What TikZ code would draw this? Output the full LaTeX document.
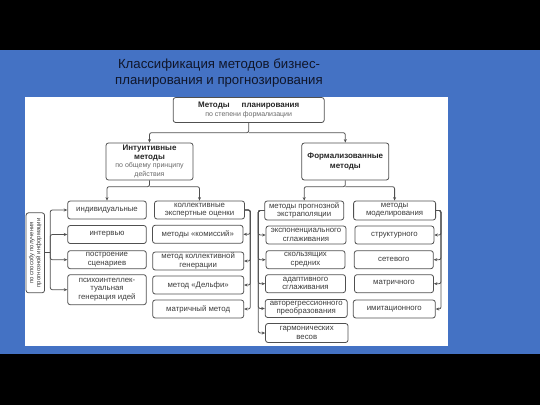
\documentclass[tikz,border=0pt]{standalone}
\usepackage{fontspec}
\setmainfont{Liberation Sans}
\usepackage{xcolor}
\usepackage{tikz}
\usetikzlibrary{arrows.meta, positioning}

\definecolor{slideblue}{RGB}{68,114,196}
\definecolor{titleink}{RGB}{16,22,42}
\definecolor{boxline}{RGB}{80,80,80}
\definecolor{boxtext}{RGB}{60,60,60}
\definecolor{subtext}{RGB}{105,105,105}

\begin{document}
\begin{tikzpicture}[x=1pt, y=-1pt,
    box/.style={draw=boxline, line width=0.8pt, rounded corners=2.5pt, fill=white, align=center, inner sep=0pt, text=boxtext, font=\fontsize{7.8}{8.3}\selectfont},
    head/.style={box, text=black!85, font=\fontsize{8}{8.6}\selectfont\bfseries},
    link/.style={draw=boxline, line width=0.8pt, rounded corners=2pt},
    >={Stealth[length=3.5pt, width=3pt]}]

    % Slide background
    \useasboundingbox (0,0) rectangle (540,405);
    \fill[black] (0,0) rectangle (540,405);
    \fill[slideblue] (0,50) rectangle (540,354);
    \fill[white] (25,97) rectangle (448,346);

    % Title
    \node[text=titleink, align=center, font=\fontsize{13.2}{16}\selectfont] (title) at (219,73) {Классификация методов бизнес-\\планирования и прогнозирования};

    % Root
    \node[head, minimum width=151pt, minimum height=25pt] (root) at (248.7,110) {Методы\hspace{12pt}планирования\\{\color{subtext}\fontsize{7}{8.6}\selectfont\mdseries по степени формализации}};

    % Intuitive / formalized
    \node[head, minimum width=87pt, minimum height=37pt] (intu) at (149.5,161.5) {Интуитивные\\методы\\{\color{subtext}\fontsize{7}{8.6}\selectfont\mdseries по общему принципу}\\{\color{subtext}\fontsize{7}{8.6}\selectfont\mdseries действия}};
    \node[head, minimum width=87pt, minimum height=37pt, font=\fontsize{8}{9.4}\selectfont\bfseries] (form) at (345.3,161.5) {Формализованные\\методы};

    % Way of getting information
    \node[box, rotate=90, minimum width=80pt, minimum height=18.5pt, font=\fontsize{6}{7}\selectfont] (vbox) at (35.3,252.8) {по способу получения\\прогнозной информации};

    % Individual
    \node[box, minimum width=78.6pt, minimum height=18pt] (ind) at (107,210) {индивидуальные};
    \node[box, minimum width=78.6pt, minimum height=18pt] (intv) at (107,234.5) {интервью};
    \node[box, minimum width=78.6pt, minimum height=18pt] (scen) at (107,259.7) {построение\\сценариев};
    \node[box, minimum width=78.6pt, minimum height=30pt] (psy) at (107,289.7) {психоинтеллек-\\туальная\\генерация идей};

    % Collective
    \node[box, minimum width=90pt, minimum height=18pt] (koll) at (199.5,210) {коллективные\\экспертные оценки};
    \node[box, minimum width=90.5pt, minimum height=18pt] (kom) at (197.8,234.3) {методы «комиссий»};
    \node[box, minimum width=91pt, minimum height=18pt] (gen) at (198.2,261) {метод коллективной\\генерации};
    \node[box, minimum width=91pt, minimum height=18pt] (delf) at (198.2,285) {метод «Дельфи»};
    \node[box, minimum width=91pt, minimum height=18pt] (matr) at (198.2,309) {матричный метод};

    % Extrapolation
    \node[box, minimum width=79pt, minimum height=19pt] (extr) at (304.2,210.5) {методы прогнозной\\экстраполяции};
    \node[box, minimum width=80pt, minimum height=18pt] (expo) at (306,235) {экспоненциального\\сглаживания};
    \node[box, minimum width=79pt, minimum height=18pt] (skol) at (305.5,259.7) {скользящих\\средних};
    \node[box, minimum width=80pt, minimum height=18pt] (adap) at (305.5,283.7) {адаптивного\\сглаживания};
    \node[box, minimum width=82pt, minimum height=18pt] (auto) at (306.2,308.5) {авторегрессионного\\преобразования};
    \node[box, minimum width=82.5pt, minimum height=19pt] (harm) at (306.8,333) {гармонических\\весов};

    % Modelling
    \node[box, minimum width=82pt, minimum height=19pt] (model) at (394.6,210.5) {методы\\моделирования};
    \node[box, minimum width=79pt, minimum height=18pt] (struct) at (394.4,235) {структурного};
    \node[box, minimum width=79pt, minimum height=18pt] (netw) at (393.8,259.7) {сетевого};
    \node[box, minimum width=79pt, minimum height=18pt] (matr4) at (394,283.7) {матричного};
    \node[box, minimum width=82pt, minimum height=18pt] (imit) at (394.3,309) {имитационного};

    % Bus points
    \coordinate (rootj) at (248.7,132.7);
    \coordinate (intuj) at (149.5,186.7);
    \coordinate (formj) at (345.3,186.7);
    \coordinate (vbus) at (50.3,252.8);
    \coordinate (kbus) at (250.3,210);
    \coordinate (ebus) at (258.3,210.5);
    \coordinate (mbus) at (441,210.5);

    % Tree arrows
    \draw[link, ->] (root.south) -- (rootj) -| (intu.north);
    \draw[link, ->] (rootj) -| (form.north);
    \draw[link, ->] (intu.south) -- (intuj) -| (ind.north);
    \draw[link, ->] (intuj) -| (koll.north);
    \draw[link, ->] (form.south) -- (formj) -| (extr.north);
    \draw[link, ->] (formj) -| (model.north);

    % Left bus (vbox.south is its right side, rotated)
    \draw[link] (vbox.south) -- (vbus);
    \draw[link, ->] (vbus) |- (ind.west);
    \draw[link, ->] (vbus) |- (intv.west);
    \draw[link, ->] (vbus) |- (scen.west);
    \draw[link, ->] (vbus) |- (psy.west);

    % Collective bus
    \draw[link, ->] (koll.east) -- (kbus) |- (kom.east);
    \draw[link, ->] (koll.east) -- (kbus) |- (gen.east);
    \draw[link, ->] (koll.east) -- (kbus) |- (delf.east);
    \draw[link, ->] (koll.east) -- (kbus) |- (matr.east);

    % Extrapolation bus
    \draw[link, ->] (extr.west) -- (ebus) |- (expo.west);
    \draw[link, ->] (extr.west) -- (ebus) |- (skol.west);
    \draw[link, ->] (extr.west) -- (ebus) |- (adap.west);
    \draw[link, ->] (extr.west) -- (ebus) |- (auto.west);
    \draw[link, ->] (extr.west) -- (ebus) |- (harm.west);

    % Modelling bus
    \draw[link, ->] (model.east) -- (mbus) |- (struct.east);
    \draw[link, ->] (model.east) -- (mbus) |- (netw.east);
    \draw[link, ->] (model.east) -- (mbus) |- (matr4.east);
    \draw[link, ->] (model.east) -- (mbus) |- (imit.east);
\end{tikzpicture}
\end{document}
